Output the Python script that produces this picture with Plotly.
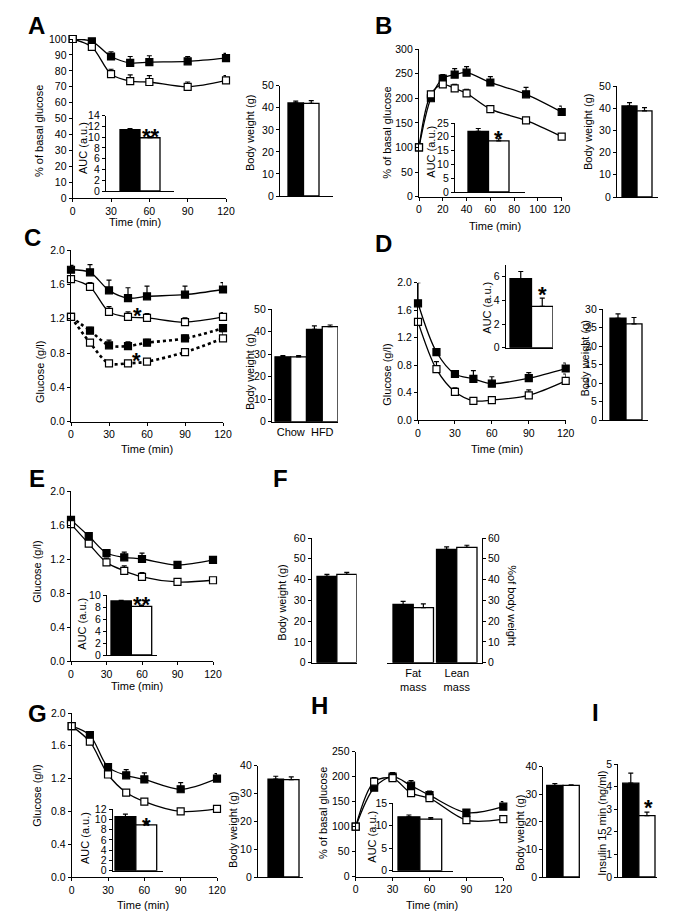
import plotly.graph_objects as go

# ---------------- data ----------------
time_min = [0, 15, 30, 45, 60, 90, 120]
time_b = [0, 10, 20, 30, 40, 60, 90, 120]

# A: insulin tolerance, % of basal glucose
a_ctrl = [100, 98.5, 89, 85, 85.5, 86, 88]
a_ctrl_err = [0, 1.5, 3, 4, 4, 3, 3]
a_ko = [100, 95, 78, 73.5, 73, 70, 74]
a_ko_err = [0, 1.5, 3, 4, 4, 3, 3]
a_auc = [11.4, 9.9]
a_auc_err = [0.2, 0.2]
a_bw = [42.2, 42.0]
a_bw_err = [0.8, 1.2]

# B: glucose tolerance, % of basal glucose
b_ctrl = [100, 200, 240, 248, 252, 232, 208, 172]
b_ctrl_err = [0, 8, 8, 12, 12, 12, 14, 12]
b_ko = [100, 208, 228, 220, 210, 178, 155, 122]
b_ko_err = [0, 6, 6, 8, 8, 6, 4, 4]
b_auc = [22.0, 18.5]
b_auc_err = [1.0, 0.8]
b_bw = [41.0, 38.8]
b_bw_err = [1.5, 1.5]

# C: glucose (g/l), HFD (solid) and chow (dotted)
c_hfd_ctrl = [1.77, 1.74, 1.53, 1.44, 1.46, 1.48, 1.54]
c_hfd_ctrl_err = [0.05, 0.09, 0.12, 0.12, 0.12, 0.10, 0.08]
c_hfd_ko = [1.66, 1.57, 1.28, 1.22, 1.21, 1.16, 1.22]
c_hfd_ko_err = [0.04, 0.05, 0.06, 0.06, 0.05, 0.05, 0.05]
c_chow_ctrl = [1.22, 1.06, 0.89, 0.88, 0.92, 0.97, 1.09]
c_chow_ctrl_err = [0.04, 0.04, 0.06, 0.05, 0.04, 0.04, 0.04]
c_chow_ko = [1.22, 0.92, 0.68, 0.68, 0.70, 0.81, 0.97]
c_chow_ko_err = [0.02, 0.03, 0.03, 0.03, 0.03, 0.03, 0.08]
c_bw = [28.8, 28.8, 41.0, 42.2]
c_bw_err = [0.5, 0.5, 1.5, 0.7]
c_bw_groups = ["Chow", "HFD"]

# D
d_ctrl = [1.70, 0.99, 0.67, 0.60, 0.53, 0.61, 0.75]
d_ctrl_err = [0.30, 0.04, 0.04, 0.12, 0.10, 0.08, 0.08]
d_ko = [1.43, 0.74, 0.41, 0.28, 0.29, 0.36, 0.57]
d_ko_err = [0.02, 0.11, 0.06, 0.02, 0.02, 0.08, 0.10]
d_auc = [5.85, 3.5]
d_auc_err = [0.6, 0.7]
d_bw = [27.5, 26.0]
d_bw_err = [1.2, 1.7]

# E
e_ctrl = [1.66, 1.47, 1.27, 1.22, 1.20, 1.13, 1.19]
e_ctrl_err = [0.03, 0.04, 0.04, 0.06, 0.07, 0.04, 0.03]
e_ko = [1.61, 1.38, 1.16, 1.06, 0.99, 0.93, 0.95]
e_ko_err = [0.04, 0.04, 0.05, 0.06, 0.05, 0.03, 0.03]
e_auc = [9.0, 8.1]
e_auc_err = [0.1, 0.2]

# F
f_bw = [41.5, 42.5]
f_bw_err = [1.0, 1.0]
f_comp = [28.0, 26.5, 54.5, 55.5]
f_comp_err = [1.5, 1.8, 1.2, 1.0]
f_groups = ["Fat<br>mass", "Lean<br>mass"]

# G
g_ctrl = [1.84, 1.73, 1.34, 1.24, 1.19, 1.07, 1.20]
g_ctrl_err = [0.02, 0.03, 0.04, 0.07, 0.08, 0.08, 0.06]
g_ko = [1.84, 1.65, 1.25, 1.03, 0.92, 0.80, 0.83]
g_ko_err = [0.02, 0.02, 0.03, 0.03, 0.03, 0.02, 0.02]
g_auc = [10.5, 8.9]
g_auc_err = [0.5, 0.4]
g_bw = [35.2, 35.0]
g_bw_err = [1.0, 1.0]

# H
h_ctrl = [100, 178, 200, 182, 163, 128, 140]
h_ctrl_err = [0, 8, 8, 10, 8, 6, 10]
h_ko = [100, 190, 197, 167, 157, 113, 115]
h_ko_err = [0, 8, 10, 6, 6, 4, 6]
h_auc = [12.0, 11.5]
h_auc_err = [0.4, 0.3]
h_bw = [33.2, 33.2]
h_bw_err = [0.7, 0.2]

# I
i_insulin = [4.15, 2.72]
i_insulin_err = [0.45, 0.15]

# ---------------- helpers ----------------
W, H = 683, 919
FONT = "Liberation Sans, Arial, sans-serif"
fig = go.Figure()
layout = {}
notes = []
count = [0]

AX = dict(showgrid=False, zeroline=False, showline=True, linecolor="black",
          linewidth=1.2, ticks="outside", ticklen=3, tickwidth=1.2,
          tickcolor="black", tickfont=dict(size=10.5, color="black"),
          automargin=False, fixedrange=True)


def new_axes(x0, x1, ytop, ybot, xr, yr, xopts=None, yopts=None):
    count[0] += 1
    s = "" if count[0] == 1 else str(count[0])
    xa = dict(AX, domain=[x0 / W, x1 / W], range=xr, anchor="y" + s)
    ya = dict(AX, domain=[1 - ybot / H, 1 - ytop / H], range=yr, anchor="x" + s)
    xa.update(xopts or {})
    ya.update(yopts or {})
    layout["xaxis" + s] = xa
    layout["yaxis" + s] = ya
    return "x" + s, "y" + s


def err_bar(err):
    return dict(type="data", array=err, arrayminus=[0] * len(err), symmetric=False,
                color="black", thickness=1.2, width=2.5)


def curve(xy, t, y, err, filled, dash="solid", width=1.3):
    fig.add_trace(go.Scatter(
        x=t, y=y, xaxis=xy[0], yaxis=xy[1], mode="lines+markers",
        line=dict(color="black", width=width, shape="spline", smoothing=0.9, dash=dash),
        marker=dict(symbol="square", size=7, color="black" if filled else "white",
                    line=dict(color="black", width=1.2)),
        error_y=err_bar(err), cliponaxis=False, showlegend=False, hoverinfo="skip"))


def time_panel(x0, x1, ytop, ybot, ymax, dtick, xstep=30, fmt=""):
    return new_axes(x0, x1, ytop, ybot, [0, 120], [0, ymax],
                    dict(tickvals=list(range(0, 121, xstep))),
                    dict(dtick=dtick, tickformat=fmt))


def bar_panel(ax0, ax1, b0, b1, ytop, ybot, ymax, dtick, vals, errs,
              pos=None, groups=None, gpos=None, side="left", tickvals=None):
    pos = pos or list(range(len(vals)))
    w = (b1 - b0) / (pos[-1] - pos[0] + 1)
    xr = [pos[0] - 0.5 - (b0 - ax0) / w, pos[-1] + 0.5 + (ax1 - b1) / w]
    xo = dict(ticks="", showticklabels=bool(groups))
    if groups:
        xo.update(tickvals=gpos, ticktext=groups, tickfont=dict(size=11, color="black"))
    yo = dict(side=side)
    if tickvals:
        yo["tickvals"] = tickvals
    else:
        yo["dtick"] = dtick
    xy = new_axes(ax0, ax1, ytop, ybot, xr, [0, ymax], xo, yo)
    fig.add_trace(go.Bar(
        x=pos, y=vals, width=[1] * len(vals), xaxis=xy[0], yaxis=xy[1],
        marker=dict(color=["black", "white"] * (len(vals) // 2),
                    line=dict(color="black", width=1.3)),
        error_y=err_bar(errs), showlegend=False, hoverinfo="skip"))
    return xy


def text(t, x, y, angle=0, size=11, bold=False):
    notes.append(dict(text="<b>%s</b>" % t if bold else t, x=x / W, y=1 - y / H,
                      xref="paper", yref="paper", showarrow=False, textangle=angle,
                      font=dict(size=size, color="black", family=FONT),
                      xanchor="center", yanchor="middle"))


def star(t, x, y, size=22):
    text(t, x, y + 0.27 * size, size=size, bold=True)


# ---------------- panel A ----------------
xy = time_panel(72.7, 226, 39, 198.3, 100, 10)
curve(xy, time_min, a_ctrl, a_ctrl_err, True)
curve(xy, time_min, a_ko, a_ko_err, False)
bar_panel(106, 174, 120, 160, 115.7, 191, 14, 2, a_auc, a_auc_err)
bar_panel(280, 333, 288, 319, 85.7, 196, 50, 10, a_bw, a_bw_err)
text("% of basal glucose", 39, 131, -90)
text("AUC (a.u.)", 83, 148, -90)
text("Body weight (g)", 250, 133, -90)
text("Time (min)", 135, 222)
star("**", 151, 131)
text("A", 36, 25, size=24, bold=True)

# ---------------- panel B ----------------
xy = time_panel(419, 561.7, 49, 196.7, 300, 50, xstep=20)
curve(xy, time_b, b_ctrl, b_ctrl_err, True)
curve(xy, time_b, b_ko, b_ko_err, False)
bar_panel(455, 525, 468, 509, 123, 192, 25, 5, b_auc, b_auc_err)
bar_panel(617, 658, 622, 652, 86, 197, 50, 10, b_bw, b_bw_err)
text("% of basal glucose", 386.7, 133, -90)
text("AUC (a.u.)", 430.7, 152, -90)
text("Body weight (g)", 588, 132, -90)
text("Time (min)", 495, 226)
star("*", 498.3, 133)
text("B", 383, 25, size=24, bold=True)

# ---------------- panel C ----------------
xy = time_panel(71, 223, 250, 421.7, 2.0, 0.4, fmt=".1f")
curve(xy, time_min, c_hfd_ctrl, c_hfd_ctrl_err, True)
curve(xy, time_min, c_hfd_ko, c_hfd_ko_err, False)
curve(xy, time_min, c_chow_ctrl, c_chow_ctrl_err, True, dash="dot", width=2.6)
curve(xy, time_min, c_chow_ko, c_chow_ko_err, False, dash="dot", width=2.6)
bar_panel(272, 338, 275, 338, 309, 421.7, 50, 10, c_bw, c_bw_err,
          groups=c_bw_groups, gpos=[0.5, 2.5])
text("Glucose (g/l)", 40, 372, -90)
text("Body weight (g)", 250, 372, -90)
text("Time (min)", 147, 449)
star("*", 137.3, 309.3)
star("*", 136.7, 355)
text("C", 32, 237, size=24, bold=True)

# ---------------- panel D ----------------
xy = time_panel(418, 565.7, 282.7, 420, 2.0, 0.4, fmt=".1f")
curve(xy, time_min, d_ctrl, d_ctrl_err, True)
curve(xy, time_min, d_ko, d_ko_err, False)
bar_panel(505.7, 553, 510, 553, 265, 347.7, 7, 2, d_auc, d_auc_err, tickvals=[0, 2, 4, 6])
bar_panel(603, 648, 610, 642, 309, 420, 30, 5, d_bw, d_bw_err)
text("Glucose (g/l)", 386.7, 375, -90)
text("AUC (a.u.)", 486.7, 308, -90)
text("Body weight (g)", 584.5, 359, -90)
text("Time (min)", 496.7, 449)
star("*", 542.7, 288.3)
text("D", 383, 243, size=24, bold=True)

# ---------------- panel E ----------------
xy = time_panel(71, 213, 491, 661, 2.0, 0.4, fmt=".1f")
curve(xy, time_min, e_ctrl, e_ctrl_err, True)
curve(xy, time_min, e_ko, e_ko_err, False)
bar_panel(107, 157, 111, 151.7, 595, 655, 10, 2, e_auc, e_auc_err)
text("Glucose (g/l)", 36.7, 572, -90)
text("AUC (a.u.)", 81.7, 624, -90)
text("Time (min)", 137, 686)
star("**", 141.7, 598.3)
text("E", 37, 478, size=24, bold=True)

# ---------------- panel F ----------------
bar_panel(311.7, 356.7, 317, 356.7, 538, 662.7, 60, 10, f_bw, f_bw_err)
bar_panel(386.7, 481.7, 393, 477, 538, 662.7, 60, 10, f_comp, f_comp_err,
          pos=[0, 1, 2.15, 3.15], groups=f_groups, gpos=[0.5, 2.65], side="right")
text("Body weight (g)", 281.7, 603, -90)
text("%of body weight", 511.7, 606, 90)
text("F", 280, 478, size=24, bold=True)

# ---------------- panel G ----------------
xy = time_panel(71.7, 217, 713, 877, 2.0, 0.4, fmt=".1f")
curve(xy, time_min, g_ctrl, g_ctrl_err, True)
curve(xy, time_min, g_ko, g_ko_err, False)
bar_panel(112.7, 163, 115, 156.7, 809, 870.7, 12, 2, g_auc, g_auc_err)
bar_panel(258, 303, 268, 299, 765.7, 877, 40, 10, g_bw, g_bw_err)
text("Glucose (g/l)", 36.7, 796, -90)
text("AUC (a.u.)", 85, 838, -90)
text("Body weight (g)", 233, 830, -90)
text("Time (min)", 143, 905)
star("*", 146.7, 819.3)
text("G", 37, 713, size=24, bold=True)

# ---------------- panel H ----------------
xy = time_panel(355.7, 503.3, 751.7, 876.7, 250, 50)
curve(xy, time_min, h_ctrl, h_ctrl_err, True)
curve(xy, time_min, h_ko, h_ko_err, False)
bar_panel(393.3, 453.3, 398, 441.7, 803.3, 870.7, 15, 5, h_auc, h_auc_err)
bar_panel(543.3, 580, 546.7, 579.3, 766.7, 877, 40, 10, h_bw, h_bw_err)
text("% of basal glucose", 323, 813, -90)
text("AUC (a.u.)", 371.7, 837, -90)
text("Body weight (g)", 520, 833, -90)
text("Time (min)", 431.7, 905)
text("H", 319, 705, size=24, bold=True)

# ---------------- panel I ----------------
bar_panel(618.3, 657.3, 622.7, 655, 764, 877, 5, 1, i_insulin, i_insulin_err)
text("Insulin 15 min (ng/ml)", 601.7, 823, -90)
star("*", 648.3, 801.7)
text("I", 595, 712, size=24, bold=True)

fig.update_layout(**layout)
fig.update_layout(width=W, height=H, autosize=False,
                  margin=dict(l=0, r=0, t=0, b=0, pad=0),
                  paper_bgcolor="white", plot_bgcolor="rgba(0,0,0,0)",
                  showlegend=False, annotations=notes,
                  font=dict(family=FONT, size=11, color="black"))
# page body has a default 8px margin; drop it so the figure fills the window
fig.write_html("out.html", config={"displayModeBar": False},
               post_script="document.body.style.margin='0';")
